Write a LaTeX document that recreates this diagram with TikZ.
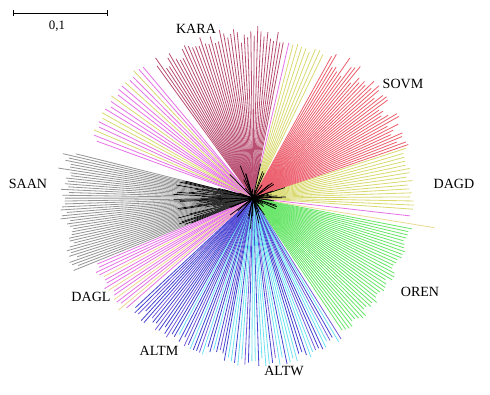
\documentclass[tikz,border=0pt]{standalone}
\usepackage{fontspec}
\setmainfont{Liberation Serif}
\usetikzlibrary{arrows.meta}

\definecolor{kara}{RGB}{185,80,115}
\definecolor{sovm}{RGB}{236,95,110}
\definecolor{yel}{RGB}{218,218,115}
\definecolor{oren}{RGB}{105,230,105}
\definecolor{cy}{RGB}{110,225,242}
\definecolor{bl}{RGB}{70,70,210}
\definecolor{vi}{RGB}{120,95,218}
\definecolor{mag}{RGB}{230,115,230}
\definecolor{pyl}{RGB}{236,218,150}
\definecolor{saan}{RGB}{150,150,150}

\begin{document}
\begin{tikzpicture}[
        x=0.03cm, y=0.03cm,
        ray/.style={line width=0.7pt},
        core/.style={line width=0.6pt, black},
        lbl/.style={font=\fontsize{12}{12}\selectfont, inner sep=0pt},
        bar/.style={line width=0.8pt, {Bar[width=5pt]}-{Bar[width=5pt]}}
    ]
        \useasboundingbox (0,0) rectangle (490,395);
        \coordinate (c) at (253,197);
        \pgfmathsetseed{5}

        % KARA
        \foreach \i in {0,...,40}{
            \pgfmathsetmacro\a{126-\i*47/40}
            \pgfmathsetmacro\r{155+17*rnd}
            \draw[ray, kara] (c) -- ++(\a:\r);
        }
        % magenta / yellow between KARA and SOVM
        \foreach \col [count=\i from 0] in {mag,yel,yel,yel,yel,yel,yel,yel,yel}{
            \pgfmathsetmacro\a{77-\i*13/8}
            \pgfmathsetmacro\r{155+8*rnd}
            \draw[ray, \col] (c) -- ++(\a:\r);
        }
        % SOVM
        \foreach \i in {0,...,37}{
            \pgfmathsetmacro\a{61-\i*42/37}
            \pgfmathsetmacro\r{150+20*rnd}
            \draw[ray, sovm] (c) -- ++(\a:\r);
        }
        % DAGD
        \foreach \i in {0,...,15}{
            \pgfmathsetmacro\a{18-\i*22/15}
            \pgfmathsetmacro\r{155+6*rnd}
            \draw[ray, yel] (c) -- ++(\a:\r);
        }
        \draw[ray, mag] (c) -- ++(-6.5:158);
        \draw[ray, pyl] (c) -- ++(-9.3:184);
        % OREN
        \foreach \i in {0,...,37}{
            \pgfmathsetmacro\a{-11-\i*45/37}
            \pgfmathsetmacro\r{155+8*rnd}
            \draw[ray, oren] (c) -- ++(\a:\r);
        }
        % ALTW
        \foreach \col [count=\i from 0] in {vi,cy,bl,vi,cy,cy,bl,bl,vi,cy,cy,bl,bl,bl,cy,cy,cy,bl,
                                            cy,cy,vi,bl,cy,cy,cy,bl,cy,cy,bl,vi,cy,cy,bl,cy,cy,bl}{
            \pgfmathsetmacro\a{-58-\i*42/35}
            \pgfmathsetmacro\r{160+10*rnd}
            \draw[ray, \col] (c) -- ++(\a:\r);
        }
        % ALTM
        \foreach \col [count=\i from 0] in {bl,vi,bl,cy,bl,bl,cy,vi,bl,bl,cy,bl,vi,bl,bl,cy,
                                            bl,bl,vi,bl,bl,bl,vi,bl,bl,vi,bl,bl,bl,vi,bl,bl}{
            \pgfmathsetmacro\a{-101-\i*36/31}
            \pgfmathsetmacro\r{155+12*rnd}
            \draw[ray, \col] (c) -- ++(\a:\r);
        }
        % DAGL
        \foreach \col [count=\i from 0] in {mag,pyl,mag,mag,pyl,mag,mag,pyl,mag,mag,mag,pyl,mag,mag,mag,mag}{
            \pgfmathsetmacro\a{-139-\i*18/15}
            \pgfmathsetmacro\r{165+10*rnd}
            \draw[ray, \col] (c) -- ++(\a:\r);
        }
        % SAAN
        \foreach \i in {0,...,41}{
            \pgfmathsetmacro\a{-158-\i*36/41}
            \pgfmathsetmacro\r{182+16*rnd}
            \pgfmathsetmacro\k{30+50*rnd}
            \draw[ray, saan] (c) -- ++(\a:\r);
            \draw[core] (c) -- ++(\a:\k);
        }
        % magenta / yellow above SAAN
        \foreach \col [count=\i from 0] in {mag,mag,yel,mag,mag,yel,yel,mag,mag,mag,yel,mag,mag,mag,
                                            yel,mag,mag,yel,mag,mag}{
            \pgfmathsetmacro\a{160-\i*30/19}
            \pgfmathsetmacro\r{165+10*rnd}
            \draw[ray, \col] (c) -- ++(\a:\r);
        }
        % inner branches
        \foreach \i in {1,...,70}{
            \pgfmathsetmacro\a{360*rnd}
            \pgfmathsetmacro\k{6+30*rnd}
            \draw[core] (c) -- ++(\a:\k);
        }

        % scale
        \coordinate (s0) at (13,382);
        \coordinate (s1) at (108,382);
        \draw[bar] (s0) -- (s1);
        \node[font=\fontsize{11}{11}\selectfont] (scale) at (57,369) {0,1};

        \node[lbl] (kara) at (196,366) {KARA};
        \node[lbl] (sovm) at (403,311) {SOVM};
        \node[lbl] (dagd) at (454,211) {DAGD};
        \node[lbl] (saan) at (28,211) {SAAN};
        \node[lbl] (dagl) at (91,98) {DAGL};
        \node[lbl] (altm) at (159,44) {ALTM};
        \node[lbl] (altw) at (284,24) {ALTW};
        \node[lbl] (oren) at (420,103) {OREN};
    \end{tikzpicture}
\end{document}
